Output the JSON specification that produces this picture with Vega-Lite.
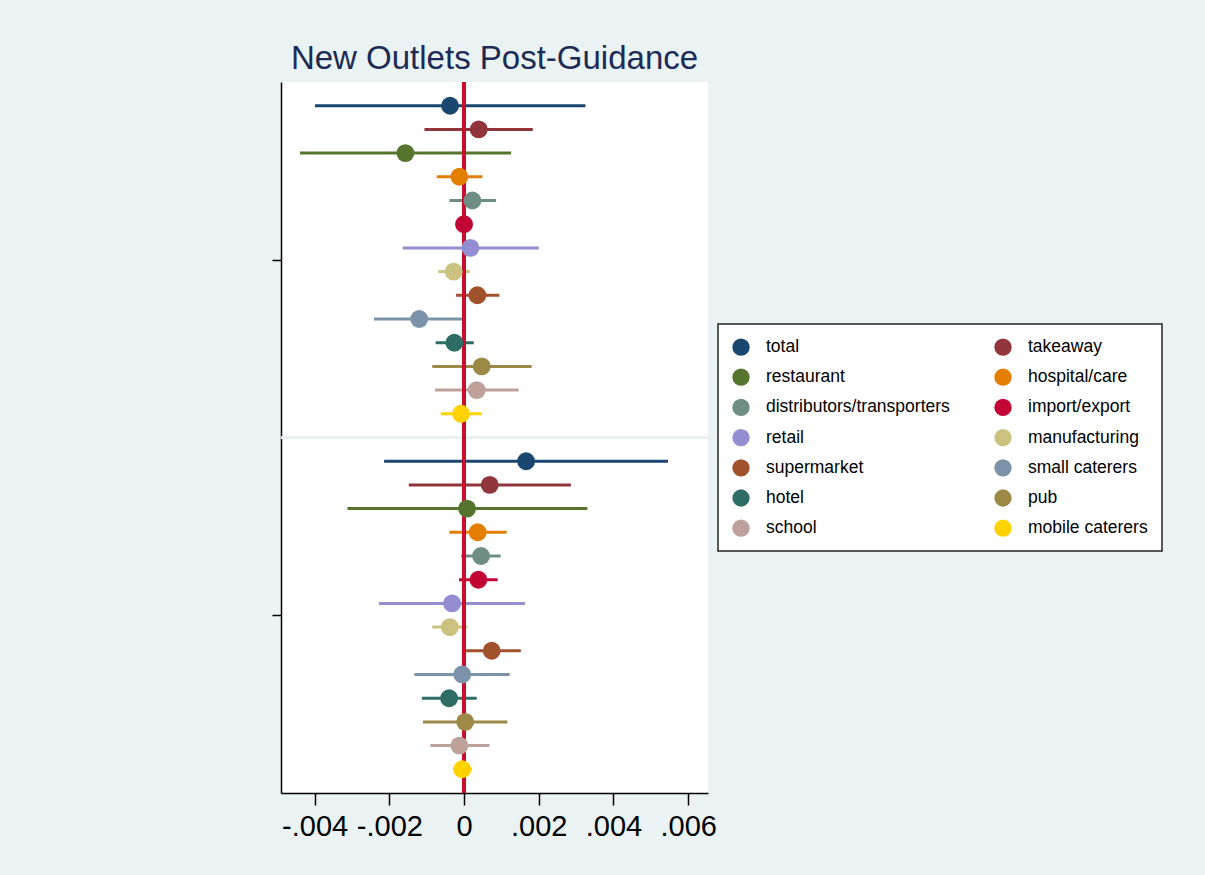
{
  "$schema": "https://vega.github.io/schema/vega-lite/v6.json",
  "width": 427,
  "height": 711,
  "autosize": {"type": "none"},
  "padding": {"left": 281, "top": 82, "right": 497, "bottom": 82},
  "background": "#EAF2F3",
  "title": {"text": "New Outlets Post-Guidance", "fontSize": 33, "font": "Liberation Sans", "fontWeight": "normal", "color": "#1c2b55", "anchor": "middle", "offset": 5},
  "config": {
    "view": {"fill": "white", "stroke": null},
    "font": "Liberation Sans"
  },
  "data": {"values": [
    {"group": "A", "row": 1, "cat": "total", "est": -0.000375, "lo": -0.00399, "hi": 0.00325},
    {"group": "A", "row": 2, "cat": "takeaway", "est": 0.000393, "lo": -0.00106, "hi": 0.00184},
    {"group": "A", "row": 3, "cat": "restaurant", "est": -0.00157, "lo": -0.00439, "hi": 0.00126},
    {"group": "A", "row": 4, "cat": "hospital/care", "est": -0.000125, "lo": -0.00073, "hi": 0.00049},
    {"group": "A", "row": 5, "cat": "distributors/transporters", "est": 0.000223, "lo": -0.000393, "hi": 0.000857},
    {"group": "A", "row": 6, "cat": "import/export", "est": 0.0, "lo": -0.00008, "hi": 0.00008},
    {"group": "A", "row": 7, "cat": "retail", "est": 0.00017, "lo": -0.00164, "hi": 0.002},
    {"group": "A", "row": 8, "cat": "manufacturing", "est": -0.000277, "lo": -0.00069, "hi": 0.000152},
    {"group": "A", "row": 9, "cat": "supermarket", "est": 0.000357, "lo": -0.000214, "hi": 0.000946},
    {"group": "A", "row": 10, "cat": "small caterers", "est": -0.0012, "lo": -0.00241, "hi": 0.000027},
    {"group": "A", "row": 11, "cat": "hotel", "est": -0.00026, "lo": -0.00076, "hi": 0.00026},
    {"group": "A", "row": 12, "cat": "pub", "est": 0.000473, "lo": -0.00085, "hi": 0.00181},
    {"group": "A", "row": 13, "cat": "school", "est": 0.00034, "lo": -0.00078, "hi": 0.00146},
    {"group": "A", "row": 14, "cat": "mobile caterers", "est": -0.00008, "lo": -0.00062, "hi": 0.00047},
    {"group": "B", "row": 16, "cat": "total", "est": 0.00166, "lo": -0.00214, "hi": 0.00546},
    {"group": "B", "row": 17, "cat": "takeaway", "est": 0.000687, "lo": -0.00148, "hi": 0.00286},
    {"group": "B", "row": 18, "cat": "restaurant", "est": 0.00008, "lo": -0.00312, "hi": 0.0033},
    {"group": "B", "row": 19, "cat": "hospital/care", "est": 0.000366, "lo": -0.000393, "hi": 0.00114},
    {"group": "B", "row": 20, "cat": "distributors/transporters", "est": 0.000455, "lo": -0.00008, "hi": 0.00098},
    {"group": "B", "row": 21, "cat": "import/export", "est": 0.000384, "lo": -0.000134, "hi": 0.0009},
    {"group": "B", "row": 22, "cat": "retail", "est": -0.00032, "lo": -0.00228, "hi": 0.00163},
    {"group": "B", "row": 23, "cat": "manufacturing", "est": -0.00038, "lo": -0.00085, "hi": 0.00009},
    {"group": "B", "row": 24, "cat": "supermarket", "est": 0.00074, "lo": -0.00004, "hi": 0.00152},
    {"group": "B", "row": 25, "cat": "small caterers", "est": -0.00005, "lo": -0.00133, "hi": 0.00122},
    {"group": "B", "row": 26, "cat": "hotel", "est": -0.0004, "lo": -0.00113, "hi": 0.00034},
    {"group": "B", "row": 27, "cat": "pub", "est": 0.00003, "lo": -0.0011, "hi": 0.00116},
    {"group": "B", "row": 28, "cat": "school", "est": -0.000125, "lo": -0.0009, "hi": 0.00068},
    {"group": "B", "row": 29, "cat": "mobile caterers", "est": -0.00005, "lo": -0.00029, "hi": 0.00021}
  ]},
  "encoding": {
    "y": {
      "field": "row", "type": "quantitative",
      "scale": {"domain": [0, 30], "reverse": true, "nice": false, "zero": false},
      "axis": {"values": [7.5, 22.5], "labels": false, "title": null, "grid": false, "tickSize": 9, "tickWidth": 1.5, "tickColor": "black", "domainColor": "black", "domainWidth": 1.5}
    }
  },
  "layer": [
    {
      "mark": {"type": "rule", "color": "#E8F0F2", "strokeWidth": 3},
      "encoding": {"y": {"datum": 15}}
    },
    {
      "mark": {"type": "rule", "strokeWidth": 3},
      "encoding": {
        "x": {
          "field": "lo", "type": "quantitative",
          "scale": {"domain": [-0.0049, 0.00653], "nice": false, "zero": false},
          "axis": {"values": [-0.004, -0.002, 0, 0.002, 0.004, 0.006], "labelExpr": "datum.value == 0 ? '0' : (datum.value < 0 ? '-' : '') + replace(format(abs(datum.value), '.3f'), '0.', '.')", "labelFontSize": 29, "labelColor": "black", "labelPadding": 7, "title": null, "grid": false, "tickSize": 12, "tickWidth": 1.5, "tickColor": "black", "domainColor": "black", "domainWidth": 1.5, "labelFlush": false, "labelOverlap": false}
        },
        "x2": {"field": "hi"},
        "color": {"field": "cat", "type": "nominal",
          "scale": {
            "domain": ["total", "restaurant", "distributors/transporters", "retail", "supermarket", "hotel", "school", "takeaway", "hospital/care", "import/export", "manufacturing", "small caterers", "pub", "mobile caterers"],
            "range": ["#1a476f", "#55752f", "#6e8e84", "#938dd2", "#a0522d", "#2d6d66", "#bfa19c", "#90353b", "#e37e00", "#c10534", "#cac27e", "#7b92a8", "#9c8847", "#ffd200"]
          },
          "legend": {"orient": "none", "legendX": 437, "legendY": 242, "columns": 2, "title": null, "symbolType": "circle", "symbolSize": 300, "symbolStrokeWidth": 0, "symbolOpacity": 1, "labelFontSize": 17.5, "labelColor": "black", "labelLimit": 300, "labelOffset": 16, "rowPadding": 12.2, "columnPadding": 44, "padding": 14, "strokeColor": "#222222", "fillColor": "white", "encode": {"legend": {"update": {"strokeWidth": {"value": 1.5}}}}}
        }
      }
    },
    {
      "mark": {"type": "rule", "color": "#c8102e", "strokeWidth": 2.5},
      "encoding": {"x": {"datum": 0}, "y": null}
    },
    {
      "mark": {"type": "point", "filled": true, "opacity": 1, "size": 320, "shape": "circle"},
      "encoding": {
        "x": {"field": "est", "type": "quantitative"},
        "color": {"field": "cat", "type": "nominal"}
      }
    }
  ]
}
